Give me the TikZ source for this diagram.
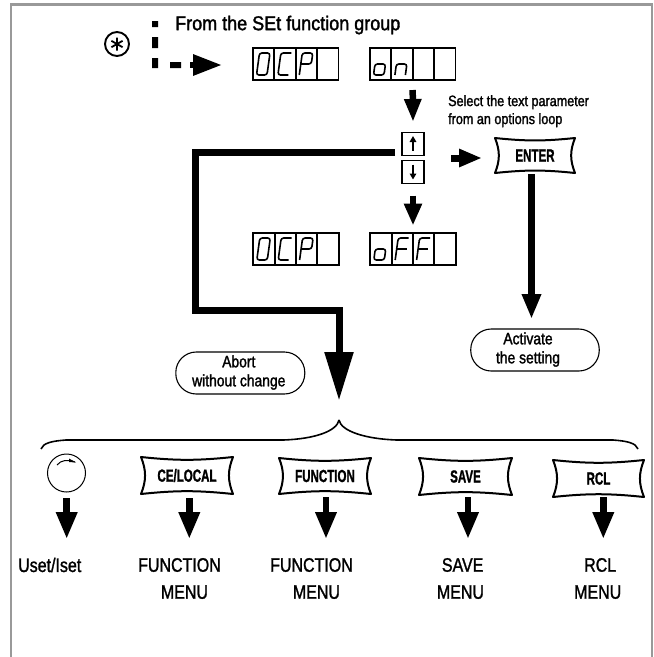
\documentclass[tikz,border=0pt]{standalone}
\usepackage{fontspec}
\setmainfont{Liberation Sans}
\newfontfamily\menufont[FakeStretch=0.82,FakeBold=1.3]{Liberation Sans}
\newfontfamily\headfont[FakeStretch=0.90,FakeBold=1.6]{Liberation Sans}
\newfontfamily\notefont[FakeStretch=0.84,FakeBold=1.6]{Liberation Sans}
\newfontfamily\keyfont[FakeStretch=0.66,FakeBold=1.2]{Liberation Sans Bold}
\usetikzlibrary{arrows.meta,calc}
\definecolor{framegray}{HTML}{999999}
\tikzset{
  keytext/.style={inner sep=0pt,outer sep=0pt,font=\keyfont\fontsize{17.5}{18}\selectfont},
  keyline/.style={line width=2pt,line join=round},
  ovalbox/.style={draw,line width=1.1pt,rounded corners=20.5pt,inner sep=0pt,outer sep=0pt,minimum height=42pt,
     font=\notefont\fontsize{16.5}{19}\selectfont},
  cellrow/.style={draw,line width=1.9pt,inner sep=0pt,outer sep=0pt,minimum height=32pt,minimum width=85.5pt},
  menulabel/.style={anchor=west,inner sep=0pt,align=left,font=\menufont\fontsize{19.5}{27}\selectfont},
  blockdown/.style={line width=6.5pt,-{Triangle[length=27pt,width=20pt]}},
  blockmid/.style={line width=6.5pt,-{Triangle[length=22pt,width=17pt]}},
  seg/.style={line width=1.6pt,rounded corners=2.5pt,black},
  thinbtn/.style={draw,line width=1.6pt,minimum width=22pt,minimum height=23pt,inner sep=0pt,outer sep=0pt},
  mainline/.style={line width=7pt,line join=miter},
}
% key with concave sides
\newcommand\keycap[6]{%
  \node[keytext,minimum width=#4 pt,minimum height=#5 pt] (#1) at (#2,#3) {#6};
  \draw[keyline] (#1.north west) to[bend right=6] (#1.north east)
     to[bend right=22] (#1.south east) to[bend right=6] (#1.south west)
     to[bend right=22] cycle;
}
% seven-segment glyphs in a cell whose top-left corner is (x,y)
\newcommand\glyphzero[2]{\draw[seg] (#1+6.5,#2+5) -- (#1+17,#2+5) -- (#1+14,#2+27) -- (#1+3.5,#2+27) -- cycle;}
\newcommand\glyphC[2]{\draw[seg] (#1+17,#2+5) -- (#1+6.5,#2+5) -- (#1+3.5,#2+27) -- (#1+14,#2+27);}
\newcommand\glyphP[2]{\draw[seg] (#1+3.5,#2+27) -- (#1+6.5,#2+5) -- (#1+17,#2+5) -- (#1+15.5,#2+16) -- (#1+5,#2+16);}
\newcommand\glyphO[2]{\draw[seg] (#1+5,#2+16) -- (#1+15.5,#2+16) -- (#1+14,#2+27) -- (#1+3.5,#2+27) -- cycle;}
\newcommand\glyphN[2]{\draw[seg] (#1+3.5,#2+27) -- (#1+5,#2+16) -- (#1+15.5,#2+16) -- (#1+14,#2+27);}
\newcommand\glyphF[2]{\draw[seg] (#1+3.5,#2+27) -- (#1+6.5,#2+5) -- (#1+17,#2+5); \draw[seg] (#1+5,#2+16) -- (#1+15,#2+16);}
\newcommand\dividers[3]{\draw[line width=1.9pt] (#1+21.4,#2) -- +(0,#3) (#1+42.8,#2) -- +(0,#3) (#1+64.1,#2) -- +(0,#3);}
\begin{document}
\begin{tikzpicture}[x=1pt,y=-1pt]
\useasboundingbox (0,0) rectangle (654,657);
\fill[white] (0,0) rectangle (654,657);
% frame
\draw[framegray,line width=2.2pt] (11,657) -- (11,4.5) -- (652,4.5) -- (652,657);
% heading
\node[anchor=west,inner sep=0pt,font=\headfont\fontsize{20}{22}\selectfont] (head) at (175,25) {From the SEt function group};
% asterisk mark
\node[draw,circle,line width=1.9pt,minimum size=24pt,inner sep=0pt] (star) at (117,44) {};
\draw[line width=1.8pt] (star.center) ++(0,-6.5) -- ++(0,13)
  (star.center) ++(-5.6,-3.2) -- ++(11.2,6.4)
  (star.center) ++(-5.6,3.2) -- ++(11.2,-6.4);
% dashed entry
\coordinate (d2) at (190,65);
\coordinate (d3) at (222,65);
\fill (152,21) rectangle (158,27) (152,37) rectangle (158,48) (152,58) rectangle (158,68) (170,62) rectangle (181,68);
\draw[line width=6pt,-{Triangle[length=29pt,width=20pt]}] (d2) -- (d3);
% displays
\node[cellrow] (disp1) at (295.7,64) {};
\node[cellrow] (disp2) at (412.7,64) {};
\node[cellrow] (disp3) at (296,249) {};
\node[cellrow] (disp4) at (413,249) {};
\dividers{253}{48}{32}
\dividers{370}{48}{32}
\dividers{253.3}{233}{32}
\dividers{370.3}{233}{32}
\glyphzero{253}{48}\glyphC{274.4}{48}\glyphP{295.8}{48}
\glyphO{370}{48}\glyphN{391.4}{48}
\glyphzero{253.3}{233}\glyphC{274.7}{233}\glyphP{296.1}{233}
\glyphO{370.3}{233}\glyphF{391.7}{233}\glyphF{413.1}{233}
% arrows in the middle column
\node[thinbtn] (up) at (413,144) {};
\node[thinbtn] (down) at (413,172) {};
\coordinate (uptip) at (413,122);
\draw[line width=6.5pt,-{Triangle[length=23pt,width=16pt]}] ($(disp2.south)+(0,10)$) -- (uptip);
\draw[line width=2.4pt,-{Triangle[length=6pt,width=6.5pt]}] (up.south) ++(0,-5) -- ++(0,-14.5);
\draw[line width=2.4pt,-{Triangle[length=6pt,width=6.5pt]}] (down.north) ++(0,4) -- ++(0,15);
\draw[blockmid] (down.south) ++(0,12) -- ++(0,30);
% instruction
\node[anchor=north west,inner sep=0pt,align=left,font=\notefont\fontsize{15}{18}\selectfont] (select) at (448,95) {Select the text parameter\\from an options loop};
% enter key
\keycap{enter}{535}{155.5}{80}{35}{ENTER}
\coordinate (entertail) at (451,158);
\coordinate (entertip) at (482,158);
\draw[line width=7pt,-{Triangle[length=23pt,width=17pt]}] (entertail) -- (entertip);
% path to activate
\node[ovalbox,minimum width=128.5pt] (activate) at (535,350) {\hspace*{-14pt}\begin{tabular}{@{}c@{}}Activate\\the setting\end{tabular}};
\coordinate (acttop) at (531.5,174);
\coordinate (acttip) at (531.5,319);
\draw[line width=7pt,-{Triangle[length=25pt,width=18pt]}] (acttop) -- (acttip);
% abort path
\node[ovalbox,minimum width=129pt] (abort) at (240.3,373) {\hspace*{-3pt}\begin{tabular}{@{}c@{}}Abort\\without change\end{tabular}};
\coordinate (tip) at (339,400.7);
\draw[mainline,-{Triangle[length=48.7pt,width=27.5pt]}] ($(up.west)+(-7,8)$) -- (195,152) -- (195,310.5) -- (339,310.5) -- (tip);
% brace
\draw[line width=1.6pt] (41,449) .. controls (43,443) and (52,441) .. (66,440);
\draw[line width=2.4pt] (66,440) -- (283,440);
\draw[line width=1.6pt] (283,440) .. controls (315,439) and (337,431) .. (339,420);
\draw[line width=1.6pt] (339,420) .. controls (341,431) and (365,439) .. (397,440);
\draw[line width=2.4pt] (397,440) -- (613,440);
\draw[line width=1.6pt] (613,440) .. controls (627,441) and (636,443) .. (638,449);
% knob
\node[draw,circle,line width=1pt,minimum size=38pt,inner sep=0pt] (knob) at (66.5,473) {};
\draw[line width=1pt] (57,465) .. controls (61,460) and (68,459) .. (75,462);
\fill (69,458.5) -- (76,462.5) -- (69,462) -- cycle;
% keys
\keycap{ce}{187}{475.5}{92}{37}{CE/LOCAL}
\keycap{fn}{325}{476}{92}{36}{FUNCTION}
\keycap{save}{465.5}{476.5}{93}{37}{SAVE}
\keycap{rcl}{598.5}{478.5}{91}{37}{RCL}
% menu arrows
\node[menulabel] (l1) at (18,565) {Uset/Iset};
\node[menulabel] (l2) at (138,578.5) {FUNCTION\\\hspace*{22.7pt}MENU};
\node[menulabel] (l3) at (270,578.5) {FUNCTION\\\hspace*{22.7pt}MENU};
\node[menulabel] (l4) at (436.7,578.5) {\hspace*{5pt}SAVE\\MENU};
\node[menulabel] (l5) at (574,578.5) {\hspace*{10pt}RCL\\MENU};
\draw[blockdown] (66.7,498) -- (66.7,539);
\draw[blockdown] (189.3,498) -- (189.3,539);
\draw[blockdown] (326,497) -- (326,539);
\draw[blockdown] (468,497) -- (468,539);
\draw[blockdown] (603.3,497) -- (603.3,539);
\end{tikzpicture}
\end{document}
